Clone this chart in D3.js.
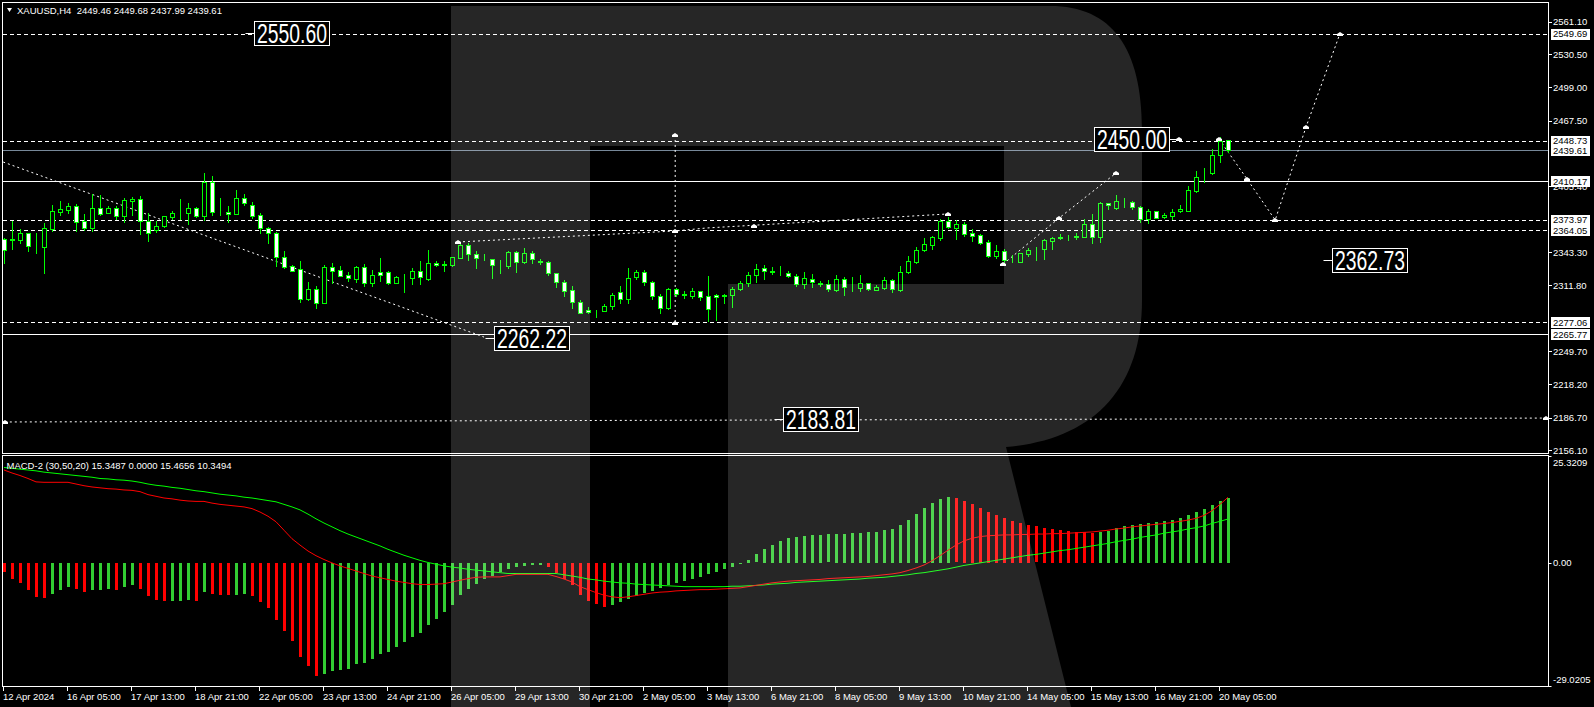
<!DOCTYPE html>
<html><head><meta charset="utf-8">
<script src="https://cdn.jsdelivr.net/npm/d3@7"></script>
<style>
html,body{margin:0;padding:0;background:#000;overflow:hidden}
svg{display:block}
text{font-family:"Liberation Sans",Arial,sans-serif;}
</style></head><body>
<svg id="c" width="1594" height="707"></svg>
<script>
// ---------------- DATA ----------------
const openP=[
2355.3,2355.0,2354.7,2361.0,2348.7,2348.4,2365.1,2381.2,2383.4,2386.5,
2372.6,2366.3,2384.6,2380.5,2384.6,2377.7,2391.9,2393.1,2372.3,2364.1,
2367.6,2376.7,2380.2,2379.9,2384.6,2377.7,2409.5,2380.8,2381.2,2378.9,
2394.1,2387.8,2378.3,2365.7,2361.3,2338.3,2329.8,2327.3,2298.6,2308.3,
2295.4,2329.1,2326.0,2321.6,2318.1,2329.1,2314.3,2324.4,2324.1,2314.3,
2319.4,2319.0,2325.4,2318.1,2332.9,2331.3,2331.3,2338.0,2349.9,2341.4,
2337.8,2336.7,2331.7,2330.4,2343.6,2333.6,2342.4,2334.2,2334.2,2323.1,
2315.0,2307.4,2295.7,2288.5,2287.8,2287.2,2291.9,2305.2,2299.2,2320.0,
2324.4,2314.6,2301.4,2290.7,2308.0,2303.0,2302.0,2306.4,2301.4,2302.3,
2302.0,2302.7,2308.0,2313.7,2321.3,2327.9,2324.7,2323.2,2323.2,2320.9,
2313.4,2318.1,2313.4,2312.8,2307.4,2317.5,2310.5,2309.6,2313.7,2307.1,
2309.6,2316.5,2307.7,2324.1,2334.2,2345.2,2349.9,2356.9,2372.6,2366.3,
2369.5,2361.3,2359.4,2352.5,2339.9,2344.3,2337.3,2334.2,2341.7,2346.2,
2345.8,2353.7,2356.9,2357.2,2357.2,2357.8,2369.5,2357.8,2389.3,2384.6,
2391.5,2390.3,2385.6,2374.5,2382.1,2376.1,2377.7,2382.1,2382.4,2401.3,
2413.9,2417.7,2434.7,2449.46];
const highP=[
2356.3,2372.6,2365.1,2361.6,2361.6,2370.8,2387.8,2391.9,2389.3,2388.7,
2378.9,2398.5,2397.2,2386.5,2386.8,2394.1,2395.3,2396.3,2379.9,2372.3,
2377.4,2381.8,2393.4,2389.7,2385.6,2417.7,2415.2,2394.4,2386.8,2401.6,
2398.2,2390.3,2380.5,2367.3,2361.9,2344.3,2331.3,2334.8,2315.0,2311.5,
2330.7,2332.6,2330.1,2324.4,2330.1,2331.7,2326.0,2337.3,2325.4,2320.6,
2322.5,2328.5,2334.8,2345.2,2335.1,2335.1,2338.9,2353.1,2351.5,2344.6,
2341.1,2336.7,2335.8,2344.6,2344.6,2346.8,2344.6,2336.4,2334.8,2323.8,
2316.8,2311.5,2297.9,2291.6,2288.5,2293.8,2304.2,2311.5,2327.9,2326.3,
2326.0,2315.9,2303.3,2309.0,2309.0,2306.4,2309.6,2306.4,2320.6,2303.9,
2303.3,2309.9,2315.9,2324.1,2331.7,2331.3,2329.5,2330.1,2325.4,2322.5,
2324.4,2322.5,2315.9,2316.8,2321.3,2319.4,2319.4,2321.6,2313.7,2311.8,
2319.4,2318.1,2329.8,2339.5,2347.7,2356.9,2358.8,2374.5,2376.7,2373.3,
2371.4,2364.8,2360.7,2354.7,2349.9,2346.5,2340.5,2342.7,2346.8,2348.4,
2355.6,2357.8,2360.0,2359.4,2361.0,2374.2,2378.9,2390.9,2389.7,2397.2,
2394.1,2391.2,2386.8,2383.7,2382.4,2379.9,2383.7,2387.8,2406.0,2419.6,
2422.4,2440.4,2451.8,2449.68];
const lowP=[
2333.2,2346.5,2352.2,2344.6,2342.7,2323.8,2363.5,2378.6,2379.9,2363.2,
2363.8,2363.5,2378.3,2380.5,2374.2,2372.0,2378.0,2360.7,2354.0,2362.6,
2367.0,2374.2,2374.2,2369.5,2376.7,2373.3,2378.3,2378.0,2372.0,2378.9,
2387.8,2375.2,2361.0,2351.5,2330.1,2328.5,2325.7,2295.7,2297.9,2290.7,
2295.4,2314.3,2320.9,2315.6,2315.3,2311.2,2311.2,2316.2,2313.1,2314.3,
2305.2,2312.7,2312.7,2316.8,2330.4,2325.4,2330.4,2337.3,2335.8,2328.5,
2335.4,2319.0,2323.8,2327.9,2324.7,2332.6,2332.6,2332.0,2321.6,2309.9,
2302.0,2290.7,2285.3,2285.3,2281.5,2287.2,2289.1,2295.4,2295.4,2317.8,
2312.4,2298.6,2285.3,2289.4,2302.0,2300.1,2300.1,2297.9,2278.1,2279.0,
2295.4,2291.6,2307.1,2311.5,2314.6,2317.5,2322.5,2321.6,2319.4,2311.5,
2309.6,2310.5,2311.2,2306.8,2306.8,2303.0,2306.8,2306.8,2307.7,2307.1,
2308.3,2305.8,2306.8,2323.2,2333.2,2344.6,2346.5,2355.0,2365.7,2355.6,
2358.8,2354.0,2350.9,2338.6,2337.3,2334.2,2334.2,2334.2,2339.5,2335.8,
2336.4,2345.8,2355.3,2354.7,2355.3,2357.2,2351.5,2353.1,2383.7,2383.7,
2386.2,2383.7,2371.4,2370.4,2375.5,2375.2,2374.2,2381.5,2381.8,2400.4,
2409.8,2416.8,2428.7,2437.99];
const closeP=[
2344.9,2355.3,2361.0,2349.3,2349.3,2365.7,2382.1,2383.7,2386.5,2372.0,
2366.3,2384.6,2378.9,2384.6,2377.7,2392.5,2393.1,2372.3,2361.0,2367.6,
2377.1,2380.2,2380.0,2384.6,2377.1,2409.5,2380.8,2380.7,2378.9,2394.1,
2390.0,2377.7,2365.7,2361.0,2338.3,2329.5,2325.7,2298.6,2308.3,2295.4,
2329.1,2325.7,2320.9,2318.4,2329.1,2314.3,2321.3,2321.3,2314.3,2319.4,
2319.6,2325.4,2319.4,2332.9,2330.7,2332.0,2338.6,2349.9,2341.1,2338.0,
2338.0,2330.7,2331.9,2343.6,2333.6,2342.4,2336.4,2334.4,2323.1,2314.6,
2306.8,2295.7,2285.3,2286.3,2288.0,2292.3,2302.7,2298.9,2318.4,2324.4,
2314.6,2301.4,2290.0,2308.0,2303.3,2303.2,2306.4,2301.1,2289.1,2300.5,
2302.2,2308.3,2314.0,2321.3,2327.6,2325.4,2324.9,2323.4,2320.9,2313.4,
2318.4,2314.6,2313.6,2308.0,2317.5,2310.5,2310.7,2313.7,2308.3,2309.9,
2316.5,2308.3,2324.1,2334.5,2344.9,2350.6,2357.2,2372.6,2367.3,2369.8,
2360.7,2358.8,2352.2,2339.5,2344.3,2335.8,2337.5,2342.1,2345.2,2346.4,
2354.7,2356.9,2357.8,2357.4,2358.5,2369.5,2357.8,2389.7,2387.8,2391.5,
2391.7,2385.6,2374.5,2382.1,2375.8,2378.0,2381.1,2383.7,2401.6,2413.9,
2414.1,2435.0,2448.3,2439.61];

const macdHist=[
-2.1,-3.8,-4.7,-6.4,-8.0,-8.3,-7.3,-6.4,-5.7,-6.1,
-6.8,-6.4,-6.3,-6.2,-6.4,-5.7,-5.3,-6.1,-7.8,-8.7,
-9.0,-9.0,-9.0,-8.8,-8.9,-6.8,-7.3,-7.5,-7.6,-7.5,
-7.3,-7.7,-9.2,-10.6,-13.4,-16.0,-18.3,-22.2,-24.4,-26.6,
-26.2,-25.5,-25.3,-24.9,-23.8,-23.5,-22.6,-21.5,-21.0,-19.8,
-18.7,-17.4,-16.4,-14.6,-13.2,-11.6,-9.9,-7.6,-6.1,-4.9,
-3.8,-3.1,-2.1,-1.3,-1.0,-0.7,-0.5,-0.5,-1.0,-2.4,
-3.8,-5.3,-7.5,-9.0,-9.7,-10.4,-9.9,-9.2,-8.5,-7.8,
-7.1,-6.5,-5.9,-5.3,-4.8,-4.2,-3.7,-3.2,-2.7,-2.1,
-1.5,-0.9,-0.3,0.8,2.0,3.2,4.3,5.2,5.8,6.2,
6.4,6.5,6.6,6.7,6.8,6.9,7.0,7.1,7.2,7.4,
7.7,8.1,8.9,10.1,11.6,13.0,14.2,15.0,15.6,15.2,
14.6,13.8,12.9,12.0,11.2,10.5,9.9,9.4,9.0,8.6,
8.3,8.0,7.8,7.6,7.4,7.2,7.0,7.4,7.6,8.2,
8.7,9.0,9.2,9.4,9.6,9.8,10.1,10.5,11.2,12.0,
12.8,13.6,14.5,15.3487];
const macdRed=[
21.9,21.2,20.6,19.9,19.1,19.0,19.0,19.0,19.0,18.6,
18.2,17.9,17.7,17.5,17.4,17.2,17.1,16.8,16.1,15.7,
15.3,15.1,14.8,14.6,14.5,14.5,14.1,13.8,13.6,13.4,
13.2,12.8,12.0,11.0,9.7,7.7,5.7,4.2,2.8,1.7,
0.8,0.0,-0.7,-1.3,-1.9,-2.5,-3.1,-3.5,-3.9,-4.3,
-4.6,-4.9,-5.1,-5.1,-5.0,-4.9,-4.5,-4.1,-3.7,-3.4,
-3.3,-3.3,-3.3,-3.0,-2.7,-2.7,-2.7,-2.7,-2.7,-3.2,
-3.8,-4.5,-5.6,-6.3,-7.0,-7.6,-8.0,-8.2,-8.0,-7.7,
-7.4,-7.1,-6.9,-6.8,-6.6,-6.5,-6.4,-6.3,-6.3,-6.2,
-6.1,-6.0,-5.9,-5.6,-5.3,-5.0,-4.7,-4.5,-4.3,-4.2,
-4.1,-4.0,-3.9,-3.7,-3.6,-3.5,-3.4,-3.3,-3.2,-3.0,
-2.8,-2.6,-2.3,-1.8,-1.2,-0.5,0.5,1.7,3.0,4.2,
5.2,5.8,6.2,6.4,6.5,6.6,6.6,6.7,6.7,6.8,
6.8,6.9,6.9,7.0,7.1,7.2,7.3,7.5,7.7,8.0,
8.2,8.5,8.7,8.9,9.1,9.3,9.5,9.8,10.1,10.5,
11.2,12.3,13.8,15.4656];
const macdGreen=[
22.5,22.3,22.1,21.9,21.7,21.4,21.2,21.0,20.8,20.6,
20.4,20.2,19.9,19.8,19.6,19.5,19.3,19.0,18.6,18.3,
18.1,17.8,17.6,17.3,17.0,16.8,16.5,16.2,16.0,15.8,
15.5,15.3,15.0,14.7,14.4,13.8,13.2,12.5,11.5,10.4,
9.4,8.5,7.6,6.8,6.1,5.4,4.7,4.0,3.2,2.5,
1.8,1.2,0.6,0.1,-0.3,-0.7,-1.0,-1.2,-1.5,-1.7,
-1.9,-2.1,-2.3,-2.5,-2.5,-2.5,-2.5,-2.5,-2.5,-2.5,
-2.8,-3.1,-3.4,-3.8,-4.0,-4.3,-4.5,-4.7,-4.8,-5.0,
-5.1,-5.2,-5.3,-5.4,-5.5,-5.6,-5.6,-5.6,-5.6,-5.6,
-5.6,-5.5,-5.5,-5.4,-5.3,-5.2,-5.0,-4.9,-4.8,-4.6,
-4.5,-4.4,-4.3,-4.2,-4.1,-4.0,-3.9,-3.8,-3.6,-3.5,
-3.4,-3.2,-3.0,-2.8,-2.5,-2.3,-2.0,-1.7,-1.4,-1.0,
-0.6,-0.3,0.0,0.3,0.6,0.9,1.2,1.5,1.8,2.0,
2.3,2.6,2.9,3.1,3.4,3.7,4.0,4.3,4.6,5.0,
5.3,5.6,6.0,6.3,6.6,7.0,7.3,7.6,8.0,8.3,
8.7,9.3,9.8,10.3494];

const timeLabels=["12 Apr 2024","16 Apr 05:00","17 Apr 13:00","18 Apr 21:00","22 Apr 05:00",
"23 Apr 13:00","24 Apr 21:00","26 Apr 05:00","29 Apr 13:00","30 Apr 21:00","2 May 05:00",
"3 May 13:00","6 May 21:00","8 May 05:00","9 May 13:00","10 May 21:00","14 May 05:00",
"15 May 13:00","16 May 21:00","20 May 05:00"];
const timeLabelStep=8;
const priceTicks=[2561.10,2530.50,2499.00,2467.50,2405.40,2343.30,2311.80,2249.70,2218.20,2186.70,2156.10];
const macdTicks=[25.3209,0,-29.0205];
const macdTickText=["25.3209","0.00","-29.0205"];
const dashedLevels=[2549.69,2448.73,2373.97,2364.05,2277.06];
const solidLevels=[2410.17,2265.77];
const bidPrice=2439.61;
const markedPrices=[2549.69,2448.73,2439.61,2410.17,2373.97,2364.05,2277.06,2265.77];
// annotations: [candle index, price]
const trendDown=[[-0.1,2428.4],[60,2262.9]];
const trendUp1=[[56.75,2352.8],[83.9,2363.2],[87.75,2366.0],[118,2379.3]];
const vertLine=[[83.9,2454.0],[83.9,2276.5]];
const trendUp2=[[124.9,2332.0],[131.9,2375.5],[139,2418.0]];
const forecast=[[151.9,2449.9],[155.4,2412.1],[158.9,2373.6],[162.75,2461.5],[167,2549.9]];
const lowLine=[[0.1,2182.6],[192.75,2186.3]];
const markerPts=[[56.75,2352.8],[83.9,2454.0],[83.9,2363.2],[83.9,2276.5],[93.75,2367.5],[118,2379.3],
 [124.9,2332.0],[131.9,2375.5],[139,2418.0],[151.9,2449.9],[155.4,2412.1],[158.9,2373.6],[162.75,2461.5],[167,2549.9],
 [0.1,2182.6],[192.75,2186.3],[146.9,2450.0]];
const bigLabels=[
 {t:"2550.60",i:31.25,p:2550.6,dash:"left"},
 {t:"2450.00",i:136.25,p:2450.0,dash:"right"},
 {t:"2362.73",i:166,p:2336.2,dash:"left"},
 {t:"2262.22",i:61.25,p:2262.22,dash:"left"},
 {t:"2183.81",i:97.4,p:2185.5,dash:"left"}];
const headerText="XAUUSD,H4  2449.46 2449.68 2437.99 2439.61";
const macdHeader="MACD-2 (30,50,20) 15.3487 0.0000 15.4656 10.3494";

// ---------------- LAYOUT ----------------
const svg=d3.select("#c");
const PL=2.5, PR=1548.5, UT=2.5, UB=453.5, LT=455.5, LB=686.5;
const x=d3.scaleLinear().domain([0,153]).range([4,1228]);
const y=d3.scaleLinear().domain([2156.1,2561.1]).range([450,21.7]);
const ym=d3.scaleLinear().domain([-29.0205,25.3209]).range([686,455.5]);
const LIME="#00ff00", HG="#32cd32", RED="#ff0000";

svg.append("rect").attr("width",1594).attr("height",707).attr("fill","#000");
const defs=svg.append("defs");
defs.append("clipPath").attr("id","cu").append("rect").attr("x",PL).attr("y",UT).attr("width",PR-PL).attr("height",UB-UT);
defs.append("clipPath").attr("id","cl").append("rect").attr("x",PL).attr("y",LT).attr("width",PR-PL).attr("height",LB-LT);

const up=svg.append("g").attr("clip-path","url(#cu)");
const lo=svg.append("g").attr("clip-path","url(#cl)");
const cr=v=>Math.round(v)+0.5;

// level lines
up.selectAll(".dl").data(dashedLevels).join("line")
 .attr("x1",PL).attr("x2",PR).attr("y1",d=>cr(y(d))).attr("y2",d=>cr(y(d)))
 .attr("stroke","#fff").attr("stroke-dasharray","4,3").attr("shape-rendering","crispEdges");
up.selectAll(".sl").data(solidLevels).join("line")
 .attr("x1",PL).attr("x2",PR).attr("y1",d=>cr(y(d))).attr("y2",d=>cr(y(d)))
 .attr("stroke","#fff").attr("shape-rendering","crispEdges");
up.append("line").attr("x1",PL).attr("x2",PR).attr("y1",cr(y(bidPrice))).attr("y2",cr(y(bidPrice)))
 .attr("stroke","#778899").attr("shape-rendering","crispEdges");

// dotted annotation lines
const pl=d3.line().x(d=>x(d[0])).y(d=>y(d[1]));
[trendDown,trendUp1,vertLine,trendUp2,forecast,lowLine].forEach(a=>{
 up.append("path").attr("d",pl(a)).attr("fill","none").attr("stroke","#fff").attr("stroke-width",1).attr("stroke-dasharray","2,3");
});

// candles
const idx=d3.range(openP.length);
up.selectAll(".wk").data(idx).join("line")
 .attr("x1",i=>Math.round(x(i))+0.5).attr("x2",i=>Math.round(x(i))+0.5)
 .attr("y1",i=>Math.round(y(highP[i]))).attr("y2",i=>Math.round(y(lowP[i]))+1)
 .attr("stroke",LIME).attr("shape-rendering","crispEdges");
up.selectAll(".bd").data(idx).join("rect")
 .attr("x",i=>Math.round(x(i))-1.5).attr("width",4)
 .attr("y",i=>Math.round(y(Math.max(openP[i],closeP[i])))+0.5)
 .attr("height",i=>Math.max(0,Math.round(y(Math.min(openP[i],closeP[i])))-Math.round(y(Math.max(openP[i],closeP[i])))))
 .attr("fill",i=>closeP[i]<openP[i]?"#fff":"#000")
 .attr("stroke",LIME).attr("shape-rendering","crispEdges");

// markers
up.selectAll(".mk").data(markerPts).join("path")
 .attr("d",d=>{const cx=Math.round(x(d[0])),cy=Math.round(y(d[1]));return `M${cx-3},${cy+2}L${cx-3},${cy}L${cx},${cy-2}L${cx+3},${cy}L${cx+3},${cy+2}Z`;})
 .attr("fill","#fff");

// MACD histogram
lo.selectAll(".hb").data(idx).join("rect")
 .attr("x",i=>Math.round(x(i))-1).attr("width",3)
 .attr("y",i=>Math.round(Math.min(ym(0),ym(macdHist[i]))))
 .attr("height",i=>Math.max(1,Math.round(Math.abs(ym(macdHist[i])-ym(0)))))
 .attr("fill",i=>(i>0&&macdHist[i]>=macdHist[i-1])?HG:RED)
 .attr("shape-rendering","crispEdges");
const ml=d3.line().x((d,i)=>x(i)).y(d=>ym(d));
lo.append("path").attr("d",ml(macdGreen)).attr("fill","none").attr("stroke",LIME).attr("stroke-width",1);
lo.append("path").attr("d",ml(macdRed)).attr("fill","none").attr("stroke",RED).attr("stroke-width",1);

// watermark (semi-transparent R logo)
svg.append("path")
 .attr("d","M451,6 L1050,6 C1112,6 1142,48 1142,130 L1142,300 C1142,390 1092,440 1006,447 L1071,707 L728,707 L728,284 L1004,284 L1004,146 L590,146 L590,707 L451,707 Z")
 .attr("fill","#fff").attr("fill-opacity",0.15);

// big labels
bigLabels.forEach(b=>{
 const bx=Math.round(x(b.i))+0.5, cy=Math.round(y(b.p)), bw=75, bh=24;
 const g=svg.append("g");
 g.append("rect").attr("x",bx).attr("y",cy-bh/2+0.5).attr("width",bw).attr("height",bh)
  .attr("fill","#000").attr("stroke","#fff").attr("shape-rendering","crispEdges");
 g.append("text").attr("x",bx+2.5).attr("y",cy+10).attr("fill","#fff").attr("font-size",27)
  .attr("textLength",bw-5).attr("lengthAdjust","spacingAndGlyphs").text(b.t);
 if(b.dash==="left") g.append("line").attr("x1",bx-9).attr("x2",bx).attr("y1",cy+0.5).attr("y2",cy+0.5).attr("stroke","#fff");
 else g.append("line").attr("x1",bx+bw).attr("x2",bx+bw+10).attr("y1",cy+0.5).attr("y2",cy+0.5).attr("stroke","#fff");
});

// frames
svg.append("rect").attr("x",PL).attr("y",UT).attr("width",PR-PL).attr("height",UB-UT).attr("fill","none").attr("stroke","#fff").attr("shape-rendering","crispEdges");
svg.append("rect").attr("x",PL).attr("y",LT).attr("width",PR-PL).attr("height",LB-LT).attr("fill","none").attr("stroke","#fff").attr("shape-rendering","crispEdges");

// price axis
const ax=svg.append("g");
ax.selectAll(".pt").data(priceTicks).join("line").attr("x1",PR).attr("x2",PR+3)
 .attr("y1",d=>cr(y(d))).attr("y2",d=>cr(y(d))).attr("stroke","#fff").attr("shape-rendering","crispEdges");
ax.selectAll(".ptl").data(priceTicks).join("text").attr("x",1553).attr("y",d=>y(d)+3.5)
 .attr("fill","#fff").attr("font-size",9.5).text(d=>d.toFixed(2));
const mg=ax.selectAll(".mp").data(markedPrices).join("g");
mg.append("rect").attr("x",1551).attr("y",d=>Math.round(y(d))-5).attr("width",39).attr("height",11).attr("fill","#fff");
mg.append("text").attr("x",1553).attr("y",d=>y(d)+3.5).attr("fill","#000").attr("font-size",9.5).text(d=>d.toFixed(2));
// macd axis
ax.selectAll(".mt").data(macdTicks).join("line").attr("x1",PR).attr("x2",PR+3)
 .attr("y1",d=>cr(ym(d))).attr("y2",d=>cr(ym(d))).attr("stroke","#fff");
ax.selectAll(".mtl").data(macdTicks).join("text").attr("x",1553)
 .attr("y",(d,i)=>ym(d)+(i===0?10:(i===2?-3:3.5))).attr("fill","#fff").attr("font-size",9.5).text((d,i)=>macdTickText[i]);

// time axis
const tl=timeLabels.map((t,k)=>({t,i:k*timeLabelStep}));
ax.selectAll(".tt").data(tl).join("line").attr("x1",d=>Math.round(x(d.i))-0.5).attr("x2",d=>Math.round(x(d.i))-0.5)
 .attr("y1",LB).attr("y2",LB+4).attr("stroke","#fff").attr("shape-rendering","crispEdges");
ax.selectAll(".ttl").data(tl).join("text").attr("x",d=>Math.round(x(d.i))-1).attr("y",699.5)
 .attr("fill","#fff").attr("font-size",9.5).text(d=>d.t);

// headers
svg.append("path").attr("d","M7,8 L12,8 L9.5,12 Z").attr("fill","#fff");
svg.append("text").attr("x",17).attr("y",13.5).attr("fill","#fff").attr("font-size",9.5).attr("xml:space","preserve").text(headerText);
svg.append("text").attr("x",6.5).attr("y",468.5).attr("fill","#fff").attr("font-size",9.5).text(macdHeader);
</script>
</body></html>
